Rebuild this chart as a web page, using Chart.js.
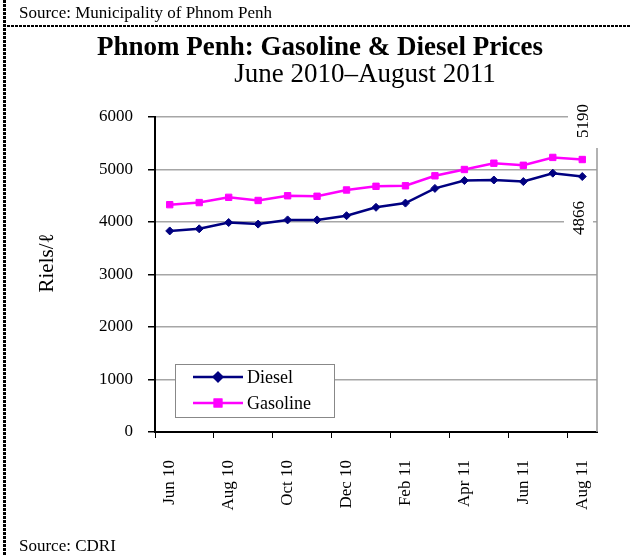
<!DOCTYPE html>
<html>
<head>
<meta charset="utf-8">
<script src="https://cdn.jsdelivr.net/npm/chart.js@4.4.1/dist/chart.umd.min.js"></script>
<style>
  body { margin: 0; background: #fff; }
  canvas { display: block; }
</style>
</head>
<body>
<canvas id="fuelChart" width="630" height="556"></canvas>
<script>
// months, Jun 2010 - Aug 2011
const months = ['Jun 10', 'Jul 10', 'Aug 10', 'Sep 10', 'Oct 10', 'Nov 10', 'Dec 10', 'Jan 11',
    'Feb 11', 'Mar 11', 'Apr 11', 'May 11', 'Jun 11', 'Jul 11', 'Aug 11'];
// riels per litre
const diesel = [3830, 3870, 3990, 3960, 4040, 4040, 4120, 4280, 4360, 4640, 4790, 4800, 4770, 4930, 4866];
const gasoline = [4330, 4370, 4470, 4410, 4500, 4490, 4610, 4680, 4690, 4880, 5000, 5120, 5080, 5230, 5190];

const serif = "'Liberation Serif', 'Times New Roman', serif";

// everything that is not a mark: frame, headings, legend, end labels
const decorPlugin = {
    id: 'decor',
    afterDraw(chart) {
        const ctx = chart.ctx;
        const area = chart.chartArea;
        ctx.save();

        // dashed frame (left + under the top source line)
        ctx.strokeStyle = '#000';
        ctx.setLineDash([3, 1]);
        ctx.lineWidth = 3;
        ctx.beginPath();
        ctx.moveTo(4.5, 0);
        ctx.lineTo(4.5, 556);
        ctx.stroke();
        ctx.lineWidth = 2;
        ctx.beginPath();
        ctx.moveTo(3, 26);
        ctx.lineTo(630, 26);
        ctx.stroke();
        ctx.setLineDash([]);

        // texts
        ctx.fillStyle = '#000';
        ctx.textBaseline = 'alphabetic';
        ctx.textAlign = 'left';
        ctx.font = '17px ' + serif;
        ctx.fillText('Source: Municipality of Phnom Penh', 19, 18);
        ctx.fillText('Source: CDRI', 19, 551);

        ctx.textAlign = 'center';
        ctx.font = 'bold 27px ' + serif;
        ctx.fillText('Phnom Penh: Gasoline & Diesel Prices', 320, 55);
        ctx.font = '27px ' + serif;
        ctx.fillText('June 2010\u2013August 2011', 365, 82);

        // y axis title
        ctx.save();
        ctx.translate(47, 263);
        ctx.rotate(-Math.PI / 2);
        ctx.font = '21px ' + serif;
        ctx.textBaseline = 'middle';
        ctx.fillText('Riels/\u2113', 0, 0);
        ctx.restore();

        // right border of plot area
        ctx.strokeStyle = '#999';
        ctx.lineWidth = 1.5;
        ctx.beginPath();
        ctx.moveTo(area.right, area.top);
        ctx.lineTo(area.right, area.bottom);
        ctx.stroke();

        // end-value labels
        const ends = [
            { text: String(gasoline[gasoline.length - 1]), box: [568, 95, 36, 53], cx: 584, cy: 121 },
            { text: String(diesel[diesel.length - 1]), box: [564, 192, 29, 52], cx: 580, cy: 218 }
        ];
        ends.forEach(e => {
            ctx.fillStyle = '#fff';
            ctx.fillRect(e.box[0], e.box[1], e.box[2], e.box[3]);
            ctx.save();
            ctx.translate(e.cx, e.cy);
            ctx.rotate(-Math.PI / 2);
            ctx.fillStyle = '#000';
            ctx.font = '17px ' + serif;
            ctx.textAlign = 'center';
            ctx.textBaseline = 'middle';
            ctx.fillText(e.text, 0, 0);
            ctx.restore();
        });

        // legend
        ctx.fillStyle = '#fff';
        ctx.fillRect(175, 364, 159, 53);
        ctx.strokeStyle = '#888';
        ctx.lineWidth = 1;
        ctx.strokeRect(175.5, 364.5, 159, 53);
        chart.data.datasets.forEach((ds, i) => {
            const y = 377 + i * 26;
            ctx.strokeStyle = ds.borderColor;
            ctx.lineWidth = ds.borderWidth;
            ctx.beginPath();
            ctx.moveTo(193, y);
            ctx.lineTo(243, y);
            ctx.stroke();
            Chart.helpers.drawPoint(ctx, {
                pointStyle: ds.pointStyle, radius: ds.pointRadius, borderWidth: 1, rotation: 0
            }, 218, y);
            ctx.fillStyle = ds.backgroundColor;
            ctx.strokeStyle = ds.borderColor;
            ctx.fill();
            ctx.stroke();
            ctx.fillStyle = '#000';
            ctx.font = '18px ' + serif;
            ctx.textAlign = 'left';
            ctx.textBaseline = 'middle';
            ctx.fillText(ds.label, 247, y + 1);
        });

        ctx.restore();
    }
};

const ctx = document.getElementById('fuelChart').getContext('2d');
const chart = new Chart(ctx, {
    type: 'line',
    data: {
        labels: months,
        datasets: [{
            label: 'Diesel',
            data: diesel,
            borderColor: '#000080',
            backgroundColor: '#000080',
            borderWidth: 2.5,
            pointStyle: 'rectRot',
            pointRadius: 4,
            pointBorderWidth: 1,
            tension: 0
        }, {
            label: 'Gasoline',
            data: gasoline,
            borderColor: '#ff00ff',
            backgroundColor: '#ff00ff',
            borderWidth: 2.5,
            pointStyle: 'rect',
            pointRadius: 4.5,
            pointBorderWidth: 1,
            tension: 0
        }]
    },
    options: {
        responsive: false,
        animation: false,
        layout: {
            padding: { top: 117, right: 33, left: 0, bottom: 0 }
        },
        plugins: {
            legend: { display: false },
            title: { display: false },
            tooltip: { enabled: false }
        },
        scales: {
            x: {
                type: 'category',
                offset: true,
                grid: {
                    offset: true,
                    drawOnChartArea: false,
                    tickLength: 6,
                    // tick marks only at every second month boundary
                    color: (c) => c.index % 2 === 0 ? '#000' : 'rgba(0,0,0,0)',
                    lineWidth: 1
                },
                border: { color: '#000', width: 2 },
                ticks: {
                    autoSkip: false,
                    maxRotation: 90,
                    minRotation: 90,
                    padding: 22,
                    color: '#000',
                    font: { family: serif, size: 17 },
                    callback: function (value, index) {
                        return index % 2 === 0 ? months[index] : '';
                    }
                },
                afterFit: function (scale) {
                    scale.height = 124;
                }
            },
            y: {
                min: 0,
                max: 6000,
                grid: {
                    color: '#a6a6a6',
                    lineWidth: 1.5,
                    tickColor: '#000',
                    tickLength: 7
                },
                border: { color: '#000', width: 2 },
                ticks: {
                    stepSize: 1000,
                    padding: 15,
                    color: '#000',
                    font: { family: serif, size: 17 },
                    callback: (v) => String(v)
                },
                afterFit: function (scale) {
                    scale.width = 155;
                }
            }
        }
    },
    plugins: [decorPlugin]
});
</script>
</body>
</html>
